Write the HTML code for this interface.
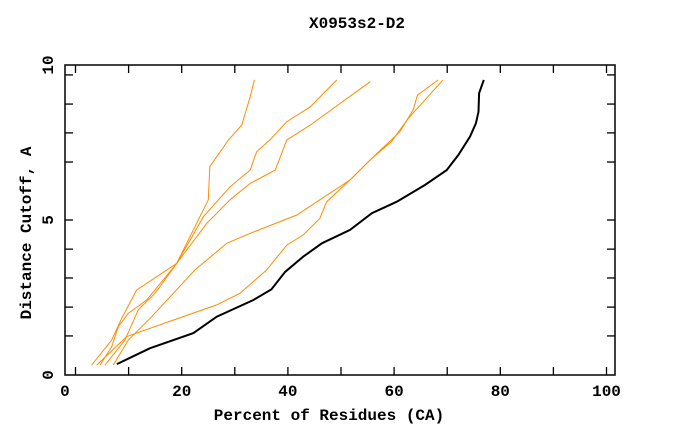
<!DOCTYPE html>
<html><head><meta charset="utf-8"><style>
body{margin:0;background:#fff}
svg text{font-family:"Liberation Mono",monospace;font-weight:bold;font-size:16px;fill:#000}
</style></head><body>
<svg id="chart" width="680" height="440" xmlns="http://www.w3.org/2000/svg">
<text x="357" y="28" text-anchor="middle">X0953s2-D2</text>
<text x="329" y="420" text-anchor="middle">Percent of Residues (CA)</text>
<text transform="translate(31,233) rotate(-90)" text-anchor="middle">Distance Cutoff, A</text>
<rect x="65" y="65" width="550" height="310" fill="none" stroke="#000" stroke-width="1.5"/>
<g id="ticks"></g><g id="series"></g>
</svg>
<script>
const xTickValues=[0,10,20,30,40,50,60,70,80,90,100];
const xTickLabels=["0","20","40","60","80","100"];
const xLabelValues=[-2,20,40,60,80,100];
const yMinorTicks=[1.26,2.19,3.13,4.06,6.87,7.81,8.74,9.68];
const yTickLabels=["0","5","10"];
const yLabelValues=[0,5,10];
const blackX=[7.8,14.0,22.2,26.6,33.5,36.9,39.5,42.9,46.4,51.7,55.8,60.5,65.8,69.9,72.1,74.3,75.4,75.9,76.0,76.9];
const blackY=[0.35,0.86,1.35,1.88,2.42,2.76,3.33,3.82,4.25,4.68,5.22,5.59,6.13,6.61,7.10,7.69,8.12,8.49,9.09,9.52];
const orangeAX=[3.05,6.82,8.7,11.5,19.06,25.0,25.3,28.8,31.3,32.9,33.7];
const orangeAY=[0.32,1.13,1.83,2.74,3.60,5.65,6.72,7.58,8.06,8.98,9.52];
const orangeBX=[4.61,6.82,8.06,9.94,13.4,19.06,24.1,29.1,32.9,34.1,36.6,39.8,44.2,49.2];
const orangeBY=[0.32,0.91,1.56,1.99,2.42,3.60,5.11,6.07,6.61,7.20,7.58,8.17,8.65,9.52];
const orangeCX=[5.56,9.32,11.8,15.0,19.06,24.7,29.1,32.9,37.6,39.8,44.2,55.5];
const orangeCY=[0.32,1.13,2.10,2.64,3.60,4.89,5.65,6.18,6.61,7.58,8.06,9.46];
const orangeDX=[7.12,9.94,14.35,22.5,28.5,32.9,41.7,46.0,51.7,55.5,59.5,62.7,69.2];
const orangeDY=[0.32,1.13,1.88,3.39,4.25,4.57,5.16,5.65,6.29,6.94,7.53,8.28,9.52];
const orangeEX=[4.0,9.64,18.4,26.6,31.0,36.0,39.8,42.9,46.0,47.3,51.7,56.1,61.1,63.6,64.4,68.3];
const orangeEY=[0.32,1.24,1.77,2.26,2.64,3.39,4.19,4.52,5.05,5.59,6.29,7.04,7.85,8.55,9.03,9.52];

const NS="http://www.w3.org/2000/svg";
function X(v){return 75.5+5.31*v;}
function Y(v){return 375-31*v;}
const tg=document.getElementById('ticks');
function line(x1,y1,x2,y2,name){
  const l=document.createElementNS(NS,'line');
  l.setAttribute('x1',x1);l.setAttribute('y1',y1);l.setAttribute('x2',x2);l.setAttribute('y2',y2);
  l.setAttribute('stroke','#000');l.setAttribute('stroke-width','1.3');
  
  
  tg.appendChild(l);
}
xTickValues.forEach(v=>{const x=X(v);line(x,375,x,367,'x-tick');line(x,65,x,73,'x-tick-top');});
yMinorTicks.concat([5]).forEach(v=>{const y=Y(v);line(65,y,73,y,'y-tick');line(615,y,607,y,'y-tick-right');});
function text(x,y,s,name,rot){
  const t=document.createElementNS(NS,'text');
  t.textContent=s;t.setAttribute('text-anchor','middle');
  if(rot){t.setAttribute('transform','translate('+x+','+y+') rotate(-90)');}
  else{t.setAttribute('x',x);t.setAttribute('y',y);}
  
  
  tg.appendChild(t);
}
xTickLabels.forEach((s,i)=>text(X(xLabelValues[i]),396,s,'x-tick-label',false));
yTickLabels.forEach((s,i)=>text(53,Y(yLabelValues[i]),s,'y-tick-label',true));
const sg=document.getElementById('series');
function series(xs,ys,color,w,name){
  const p=document.createElementNS(NS,'polyline');
  p.setAttribute('points',xs.map((x,i)=>X(x).toFixed(1)+','+Y(ys[i]).toFixed(1)).join(' '));
  p.setAttribute('fill','none');p.setAttribute('stroke',color);p.setAttribute('stroke-width',w);
  
  
  sg.appendChild(p);
}
series(orangeAX,orangeAY,'#ff8c00',1,'orange-line-a');
series(orangeBX,orangeBY,'#ff8c00',1,'orange-line-b');
series(orangeCX,orangeCY,'#ff8c00',1,'orange-line-c');
series(orangeDX,orangeDY,'#ff8c00',1,'orange-line-d');
series(orangeEX,orangeEY,'#ff8c00',1,'orange-line-e');
series(blackX,blackY,'#000',2,'black-line');
</script>
</body></html>
